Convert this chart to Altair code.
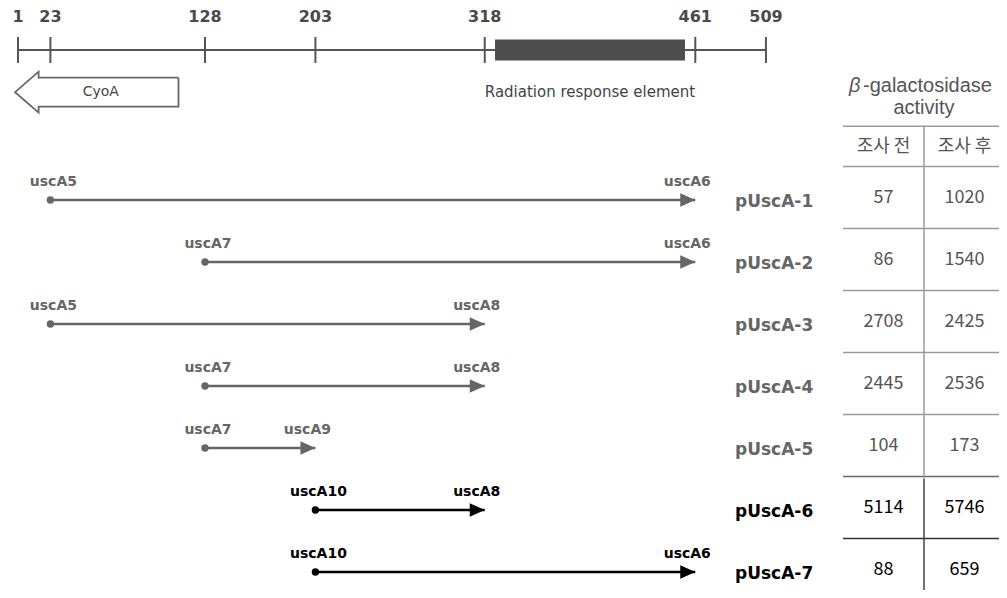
import altair as alt
import pandas as pd

# ------------------------------------------------------------------ data
ruler_ticks = [1, 23, 128, 203, 318, 461, 509]
ruler_span = [1, 509]
rre_span = [325, 454]
rre_label = "Radiation response element"
cyoa_span = [110, -1]          # drawn from 110 pointing left to -1
cyoa_label = "CyoA"

constructs = ["pUscA-1", "pUscA-2", "pUscA-3", "pUscA-4", "pUscA-5", "pUscA-6", "pUscA-7"]
fwd_primers = ["uscA5", "uscA7", "uscA5", "uscA7", "uscA7", "uscA10", "uscA10"]
rev_primers = ["uscA6", "uscA6", "uscA8", "uscA8", "uscA9", "uscA8", "uscA6"]
fwd_pos = [23, 128, 23, 128, 128, 203, 203]
rev_pos = [461, 461, 318, 318, 203, 318, 461]
activity_before = [57, 86, 2708, 2445, 104, 5114, 88]
activity_after = [1020, 1540, 2425, 2536, 173, 5746, 659]
col_headers = ["조사 전", "조사 후"]
title_lines = ["β", "-galactosidase", "activity"]

# ------------------------------------------------------------------ layout
Y_DOMAIN = [-2.097, 7.29]
RULER_Y = -1.42
GENE_Y = -0.74
HEADER_Y = 0.15
TABLE_TOP = -0.19
H = 582
WA, WB = 822, 169
XA_DOMAIN = [-5.79, 552.5]
XB_DOMAIN = [-0.1605, 1.926]
GRAY = "#666666"
DARK = "#000000"
TXT = "#555555"

ys = alt.Scale(domain=Y_DOMAIN, reverse=True, nice=False, zero=False)
xsa = alt.Scale(domain=XA_DOMAIN, nice=False, zero=False)
xsb = alt.Scale(domain=XB_DOMAIN, nice=False, zero=False)


def XA(f):
    return alt.X(f, type="quantitative", scale=xsa, axis=None)


def XB(f):
    return alt.X(f, type="quantitative", scale=xsb, axis=None)


def Y(f):
    return alt.Y(f, type="quantitative", scale=ys, axis=None)


hl_color = alt.condition("datum.row >= 6", alt.value(DARK), alt.value(GRAY))

rows = pd.DataFrame({
    "row": list(range(1, len(constructs) + 1)),
    "name": constructs,
    "fwd": fwd_primers,
    "rev": rev_primers,
    "start": fwd_pos,
    "end": rev_pos,
    "before": activity_before,
    "after": activity_after,
})

# ------------------------------------------------------------------ panel A
ruler_df = pd.DataFrame({"a": [ruler_span[0]], "b": [ruler_span[1]], "y": [RULER_Y]})
ruler = alt.Chart(ruler_df).mark_rule(color="#555555", strokeWidth=2).encode(
    x=XA("a"), x2="b", y=Y("y"))

ticks_df = pd.DataFrame({"p": ruler_ticks, "y": RULER_Y, "lab": [str(t) for t in ruler_ticks]})
ticks = alt.Chart(ticks_df).mark_tick(orient="vertical", size=26, thickness=2,
                                      color="#555555", opacity=1).encode(x=XA("p"), y=Y("y"))
tick_labels = alt.Chart(ticks_df).mark_text(
    font="DejaVu Sans", fontWeight="bold", fontSize=16, color="#4a4a4a",
    baseline="middle", dy=-33).encode(x=XA("p"), y=Y("y"), text="lab:N")

rre_df = pd.DataFrame({"a": [rre_span[0]], "b": [rre_span[1]],
                       "y0": [RULER_Y - 0.17], "y1": [RULER_Y + 0.17],
                       "mid": [(rre_span[0] + rre_span[1]) / 2], "yl": [GENE_Y],
                       "lab": [rre_label]})
rre = alt.Chart(rre_df).mark_rect(color="#4d4d4d").encode(
    x=XA("a"), x2="b", y=Y("y0"), y2="y1")
rre_text = alt.Chart(rre_df).mark_text(
    font="DejaVu Sans", fontSize=15, color="#444444", baseline="middle"
).encode(x=XA("mid"), y=Y("yl"), text="lab:N")

tail, tip = cyoa_span
HEAD = 16
base = tip + HEAD
BH, HH = 0.234, 0.33
pts = [(tail, GENE_Y - BH), (base, GENE_Y - BH), (base, GENE_Y - HH), (tip, GENE_Y),
       (base, GENE_Y + HH), (base, GENE_Y + BH), (tail, GENE_Y + BH), (tail, GENE_Y - BH)]
cy_df = pd.DataFrame({"i": list(range(len(pts))), "x": [p[0] for p in pts],
                      "y": [p[1] for p in pts]})
cyoa = alt.Chart(cy_df).mark_line(color="#666666", strokeWidth=1.8).encode(
    x=XA("x"), y=Y("y"), order=alt.Order("i:Q"))
cy_lab_df = pd.DataFrame({"x": [(tail + tip) / 2], "y": [GENE_Y], "lab": [cyoa_label]})
cyoa_text = alt.Chart(cy_lab_df).mark_text(
    font="DejaVu Sans", fontSize=14, color="#444444", baseline="middle", dx=4
).encode(x=XA("x"), y=Y("y"), text="lab:N")

base_rows = alt.Chart(rows)
shafts = base_rows.mark_rule(strokeWidth=2.5).encode(
    x=XA("start"), x2="end", y=Y("row"), color=hl_color)
dots = base_rows.mark_point(shape="circle", filled=True, size=55, opacity=1).encode(
    x=XA("start"), y=Y("row"), color=hl_color)
heads = base_rows.mark_point(shape="M0,0L-1,-0.45L-1,0.45Z", filled=True, size=900,
                             opacity=1).encode(x=XA("end"), y=Y("row"), color=hl_color)
fwd_lab = base_rows.mark_text(font="DejaVu Sans", fontWeight="bold", fontSize=14,
                              baseline="middle", dy=-18, dx=3).encode(
    x=XA("start"), y=Y("row"), text="fwd:N", color=hl_color)
rev_lab = base_rows.mark_text(font="DejaVu Sans", fontWeight="bold", fontSize=14,
                              baseline="middle", dy=-18, dx=-8).encode(
    x=XA("end"), y=Y("row"), text="rev:N", color=hl_color)
names = base_rows.mark_text(font="DejaVu Sans", fontWeight="bold", fontSize=17,
                            align="left", baseline="middle", dy=2).encode(
    x=alt.value(727), y=Y("row"), text="name:N", color=hl_color)

panelA = alt.layer(ruler, rre, ticks, tick_labels, rre_text, cyoa, cyoa_text,
                   shafts, dots, heads, fwd_lab, rev_lab, names).properties(
    width=WA, height=H)

# ------------------------------------------------------------------ panel B
title_df = pd.DataFrame({"t": title_lines, "x": [1, 1, 1],
                         "y": [-0.84, -0.84, -0.48]})
t_beta = alt.Chart(title_df.iloc[[0]]).mark_text(
    font="Liberation Sans", fontStyle="italic", fontSize=20, color=TXT,
    align="left", baseline="middle", dx=-75).encode(x=XB("x"), y=Y("y"), text="t:N")
t_gal = alt.Chart(title_df.iloc[[1]]).mark_text(
    font="Liberation Sans", fontSize=20, color=TXT,
    align="left", baseline="middle", dx=-61).encode(x=XB("x"), y=Y("y"), text="t:N")
t_act = alt.Chart(title_df.iloc[[2]]).mark_text(
    font="Liberation Sans", fontSize=20, color=TXT,
    align="center", baseline="middle").encode(x=XB("x"), y=Y("y"), text="t:N")

sep_y = [TABLE_TOP] + [k + 0.46 for k in range(len(constructs))]
sep_c = ["#9a9a9a"] * (len(sep_y) - 2) + ["#6a6a6a", "#333333"]
sep_df = pd.DataFrame({"y": sep_y, "a": 0, "b": 2, "c": sep_c})
seps = alt.Chart(sep_df).mark_rule(strokeWidth=1.5, clip=True).encode(
    x=XB("a"), x2="b", y=Y("y"), color=alt.Color("c:N", scale=None))

div_df = pd.DataFrame({"x": [1, 1], "y0": [TABLE_TOP, 5.5], "y1": [5.5, Y_DOMAIN[1]],
                       "c": ["#9a9a9a", "#444444"]})
divider = alt.Chart(div_df).mark_rule(strokeWidth=1.5).encode(
    x=XB("x"), y=Y("y0"), y2="y1", color=alt.Color("c:N", scale=None))

hdr_df = pd.DataFrame({"t": col_headers, "x": [0.5, 1.5], "y": HEADER_Y})
hdr = alt.Chart(hdr_df).mark_text(font="Noto Sans CJK KR", fontSize=18, color=TXT,
                                  baseline="middle").encode(x=XB("x"), y=Y("y"), text="t:N")

vals = alt.Chart(rows).transform_fold(["before", "after"], as_=["k", "v"]).transform_calculate(
    cx="datum.k == 'before' ? 0.5 : 1.5")
val_txt = vals.mark_text(font="Noto Sans CJK KR", fontSize=18, baseline="middle", dy=-2).encode(
    x=XB("cx"), y=Y("row"), text="v:Q",
    color=alt.condition("datum.row >= 6", alt.value("#000000"), alt.value(TXT)))

panelB = alt.layer(t_beta, t_gal, t_act, seps, divider, hdr, val_txt).properties(
    width=WB, height=H)

chart = alt.hconcat(panelA, panelB, spacing=0).properties(
    padding=0, bounds="flush").configure_view(stroke=None)

chart.save("out.html", embed_options={"renderer": "svg", "actions": False})
